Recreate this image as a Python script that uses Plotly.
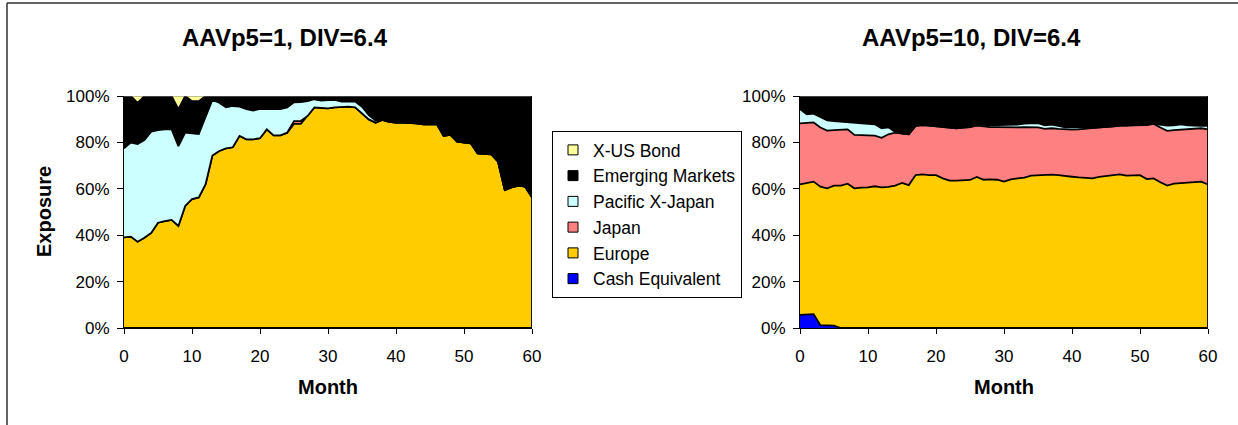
import plotly.graph_objects as go

months = list(range(61))

series_names = ["Cash Equivalent", "Europe", "Japan", "Pacific X-Japan", "Emerging Markets", "X-US Bond"]
series_colors = ["#0000FF", "#FFCC00", "#FF8080", "#CCFFFF", "#000000", "#FFFF99"]

# Left panel: AAVp5=1, DIV=6.4 (percent exposure)
cash_left = [0] * 61
europe_left = [39.1, 39.4, 37.2, 38.9, 41.0, 45.4, 46.1, 46.6, 44.0, 52.6,
               55.6, 56.3, 62.0, 74.3, 76.3, 77.4, 77.9, 82.8, 81.3, 81.3,
               81.8, 85.6, 83.0, 83.0, 84.2, 88.0, 88.0, 91.4, 95.1, 94.8,
               94.7, 95.1, 95.4, 95.4, 95.1, 92.5, 89.9, 88.5, 89.7, 88.9,
               88.5, 88.5, 88.5, 88.2, 87.8, 87.8, 87.9, 82.8, 83.2, 80.3,
               80.0, 79.6, 75.3, 75.0, 74.9, 71.7, 59.5, 60.6, 61.4, 60.9, 56.3]
japan_left = [0, 0, 0, 0, 0, 0, 0, 0, 0, 0,
              0, 0, 0, 0, 0, 0, 0, 0, 0, 0,
              0, 0, 0, 0, 0, 1.2, 1.2, 0, 0, 0,
              0, 0, 0, 0, 0, 0, 0, 0, 0, 0,
              0, 0, 0, 0, 0, 0, 0, 0, 0, 0,
              0, 0, 0, 0, 0, 0, 0, 0, 0, 0, 0]
pacific_left = [38.3, 40.5, 42.1, 42.1, 43.6, 39.9, 39.5, 39.0, 34.4, 31.6,
                28.3, 27.3, 29.0, 24.0, 20.8, 17.7, 17.8, 12.6, 13.0, 12.4,
                12.6, 8.8, 11.4, 11.3, 10.9, 8.1, 8.2, 6.4, 3.5, 3.2,
                3.5, 3.2, 2.2, 2.2, 2.5, 2.9, 1.9, 0.9, 0, 0,
                0, 0, 0, 0, 0, 0, 0, 0, 0, 0,
                0, 0, 0, 0, 0, 0, 0, 0, 0, 0, 0]
em_left = [22.6, 20.1, 17.7, 19.0, 15.4, 14.7, 14.4, 14.4, 15.9, 15.8,
           13.9, 14.2, 9.0, 1.7, 2.9, 4.9, 4.3, 4.6, 5.7, 6.3,
           5.6, 5.6, 5.6, 5.7, 4.9, 2.7, 2.6, 2.2, 1.4, 2.0,
           1.8, 1.7, 2.4, 2.4, 2.4, 4.6, 8.2, 10.6, 10.3, 11.1,
           11.5, 11.5, 11.5, 11.8, 12.2, 12.2, 12.1, 17.2, 16.8, 19.7,
           20.0, 20.4, 24.7, 25.0, 25.1, 28.3, 40.5, 39.4, 38.6, 39.1, 43.7]
xus_left = [0, 0, 3.0, 0, 0, 0, 0, 0, 5.7, 0,
            2.2, 2.2, 0, 0, 0, 0, 0, 0, 0, 0,
            0, 0, 0, 0, 0, 0, 0, 0, 0, 0,
            0, 0, 0, 0, 0, 0, 0, 0, 0, 0,
            0, 0, 0, 0, 0, 0, 0, 0, 0, 0,
            0, 0, 0, 0, 0, 0, 0, 0, 0, 0, 0]

# Right panel: AAVp5=10, DIV=6.4
cash_right = [5.7, 5.7, 6.0, 1.2, 1.2, 1.0, 0, 0, 0, 0,
              0, 0, 0, 0, 0, 0, 0, 0, 0, 0,
              0, 0, 0, 0, 0, 0, 0, 0, 0, 0,
              0, 0, 0, 0, 0, 0, 0, 0, 0, 0,
              0, 0, 0, 0, 0, 0, 0, 0, 0, 0,
              0, 0, 0, 0, 0, 0, 0, 0, 0, 0, 0]
europe_right = [56.2, 56.9, 57.1, 59.7, 59.0, 60.4, 61.4, 62.2, 60.2, 60.5,
                60.6, 61.1, 60.6, 60.8, 61.4, 62.5, 61.6, 65.9, 66.2, 65.9,
                65.9, 64.5, 63.5, 63.5, 63.8, 63.8, 65.1, 63.9, 64.1, 63.9,
                63.1, 64.1, 64.5, 64.8, 65.7, 65.9, 66.2, 66.1, 65.9, 65.7,
                65.2, 64.9, 64.8, 64.5, 65.1, 65.4, 65.9, 66.2, 65.7, 65.8,
                65.9, 64.2, 64.5, 62.8, 61.4, 62.2, 62.4, 62.5, 62.8, 63.1, 61.9]
japan_right = [26.3, 25.8, 25.5, 25.5, 24.9, 23.9, 24.2, 23.4, 23.0, 22.7,
               22.6, 21.8, 21.4, 22.7, 22.8, 21.3, 21.9, 21.2, 21.3, 21.3,
               21.0, 21.9, 22.6, 22.6, 22.6, 22.8, 22.1, 22.9, 22.5, 22.7,
               23.4, 22.4, 22.0, 21.8, 20.8, 20.6, 19.6, 20.0, 19.9, 19.8,
               20.3, 20.7, 21.1, 21.6, 21.4, 21.1, 20.9, 21.0, 21.5, 21.6,
               21.6, 23.3, 23.5, 23.6, 23.6, 23.1, 23.1, 23.1, 23.0, 23.0, 23.7]
pacific_right = [6.2, 3.7, 3.8, 4.7, 4.4, 3.9, 3.3, 3.0, 5.2, 5.0,
                 4.8, 4.9, 4.1, 3.0, 0.3, 0, 0, 0, 0, 0,
                 0, 0, 0, 0, 0, 0, 0.5, 0.6, 0.8, 0.9,
                 1.0, 1.0, 1.2, 1.5, 1.8, 1.8, 1.6, 1.6, 1.3, 1.0,
                 1.0, 0.8, 0.6, 0.2, 0, 0, 0, 0, 0, 0,
                 0, 0, 0, 1.2, 2.2, 2.0, 2.3, 1.8, 1.3, 1.0, 1.5]
em_right = [5.6, 7.9, 7.6, 8.9, 10.5, 10.8, 11.1, 11.4, 11.6, 11.8,
            12.0, 12.2, 13.9, 13.5, 15.5, 16.2, 16.5, 12.9, 12.5, 12.8,
            13.1, 13.6, 13.9, 13.9, 13.6, 13.4, 12.3, 12.6, 12.6, 12.5,
            12.5, 12.5, 12.3, 11.9, 11.7, 11.7, 12.6, 12.3, 12.9, 13.5,
            13.5, 13.6, 13.5, 13.7, 13.5, 13.5, 13.2, 12.8, 12.8, 12.6,
            12.5, 12.5, 12.0, 12.4, 12.8, 12.7, 12.2, 12.6, 12.9, 12.9, 12.9]
xus_right = [0] * 61

titles = ["AAVp5=1, DIV=6.4", "AAVp5=10, DIV=6.4"]
y_ticks = [0, 20, 40, 60, 80, 100]
y_tick_labels = ["0%", "20%", "40%", "60%", "80%", "100%"]
x_ticks = [0, 10, 20, 30, 40, 50, 60]

left_series = [cash_left, europe_left, japan_left, pacific_left, em_left, xus_left]
right_series = [cash_right, europe_right, japan_right, pacific_right, em_right, xus_right]

W, H = 1238, 425
FONT = "Liberation Sans, Arial, sans-serif"

def px_x(p):
    return p / W

def px_y(p):
    return 1 - p / H

fig = go.Figure()

for data, xa, ya, grp in [(left_series, "x", "y", "L"), (right_series, "x2", "y2", "R")]:
    for name, color, vals in zip(series_names, series_colors, data):
        lw = 0 if name == "X-US Bond" else 1.8
        fig.add_trace(go.Scatter(
            x=months, y=vals, name=name, xaxis=xa, yaxis=ya,
            stackgroup=grp, mode="lines",
            line=dict(color="black", width=lw),
            fillcolor=color, showlegend=False,
            hovertemplate=name + ": %{y:.1f}%<extra></extra>",
        ))

# legend entries (square swatches, in Excel legend order)
for name, color in reversed(list(zip(series_names, series_colors))):
    fig.add_trace(go.Scatter(
        x=[None], y=[None], mode="markers", name=name, xaxis="x", yaxis="y",
        marker=dict(symbol="square", size=10, color=color, line=dict(color="black", width=1)),
        showlegend=True,
    ))

xdom1 = [px_x(124), px_x(532)]
xdom2 = [px_x(800), px_x(1208)]
ydom = [px_y(328), px_y(96)]

axis_common = dict(showgrid=False, zeroline=False, showline=True, linecolor="black",
                   linewidth=1, ticks="outside", tickcolor="black", tickwidth=1,
                   automargin=False,
                   tickfont=dict(family=FONT, size=17, color="black"))

fig.update_layout(
    width=W, height=H, autosize=False,
    margin=dict(l=0, r=0, t=0, b=0, pad=0, autoexpand=False),
    paper_bgcolor="white", plot_bgcolor="white",
    font=dict(family=FONT, color="black"),
    xaxis=dict(domain=xdom1, range=[0, 60], tickvals=x_ticks, ticklen=5, anchor="y",
               ticklabelstandoff=8, **axis_common),
    yaxis=dict(domain=ydom, range=[0, 100], tickvals=y_ticks, ticktext=y_tick_labels, ticklen=6,
               ticklabelstandoff=4, anchor="x", **axis_common),
    xaxis2=dict(domain=xdom2, range=[0, 60], tickvals=x_ticks, ticklen=5, anchor="y2",
                ticklabelstandoff=8, **axis_common),
    yaxis2=dict(domain=ydom, range=[0, 100], tickvals=y_ticks, ticktext=y_tick_labels, ticklen=6,
                ticklabelstandoff=4, anchor="x2", **axis_common),
    legend=dict(x=px_x(552), y=px_y(131), xanchor="left", yanchor="top",
                bordercolor="black", borderwidth=1, bgcolor="white",
                font=dict(family=FONT, size=17.5, color="black"),
                traceorder="normal"),
    showlegend=True,
)

annotations = [
    dict(text="<b>" + titles[0] + "</b>", x=px_x(285), y=px_y(38), xref="paper", yref="paper",
         showarrow=False, font=dict(family=FONT, size=24, color="black"), xanchor="center", yanchor="middle"),
    dict(text="<b>" + titles[1] + "</b>", x=px_x(972), y=px_y(38), xref="paper", yref="paper",
         showarrow=False, font=dict(family=FONT, size=24, color="black"), xanchor="center", yanchor="middle"),
    dict(text="<b>Exposure</b>", x=px_x(44), y=px_y(212), xref="paper", yref="paper", textangle=-90,
         showarrow=False, font=dict(family=FONT, size=20, color="black"), xanchor="center", yanchor="middle"),
    dict(text="<b>Month</b>", x=px_x(328), y=px_y(387), xref="paper", yref="paper",
         showarrow=False, font=dict(family=FONT, size=20, color="black"), xanchor="center", yanchor="middle"),
    dict(text="<b>Month</b>", x=px_x(1004), y=px_y(387), xref="paper", yref="paper",
         showarrow=False, font=dict(family=FONT, size=20, color="black"), xanchor="center", yanchor="middle"),
]
fig.update_layout(annotations=annotations)

shapes = []
for xr, yr in [("x", "y"), ("x2", "y2")]:
    shapes.append(dict(type="line", xref=xr, yref=yr, x0=0, x1=60, y0=100, y1=100,
                       line=dict(color="#808080", width=1.2), layer="above"))
    shapes.append(dict(type="line", xref=xr, yref=yr, x0=60, x1=60, y0=0, y1=100,
                       line=dict(color="black", width=1.8), layer="above"))
# outer chart frame (top and left edges)
shapes.append(dict(type="line", xref="paper", yref="paper", x0=px_x(7), x1=1, y0=px_y(3), y1=px_y(3),
                   line=dict(color="#303030", width=1.5)))
shapes.append(dict(type="line", xref="paper", yref="paper", x0=px_x(7), x1=px_x(7), y0=0, y1=px_y(3),
                   line=dict(color="#303030", width=1.5)))
fig.update_layout(shapes=shapes)

fig.write_html("out.html",
               post_script="document.body.style.margin='0px';document.body.style.overflow='hidden';")
